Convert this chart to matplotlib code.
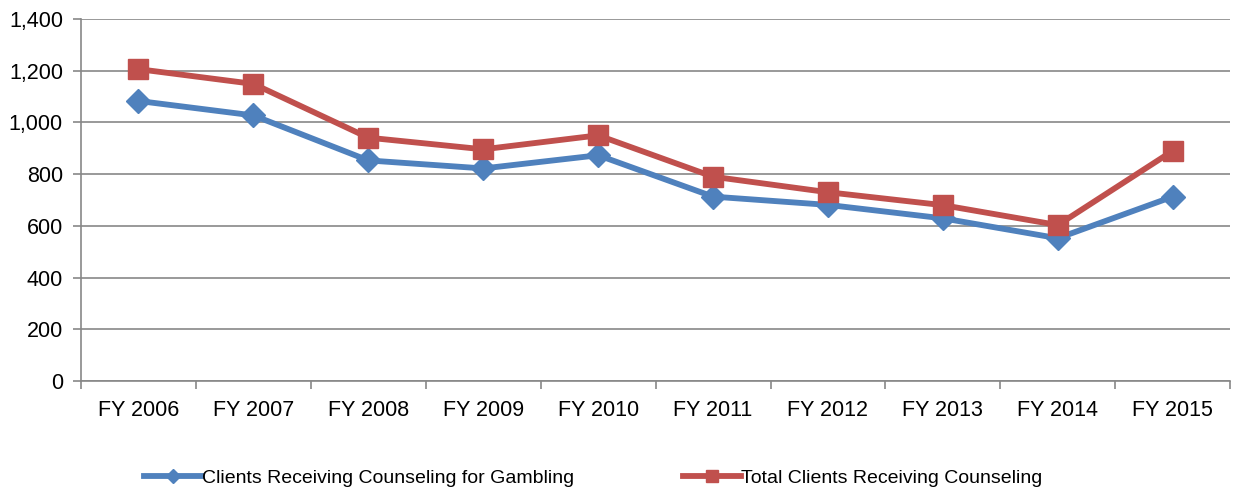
import matplotlib
matplotlib.use("Agg")
import matplotlib.pyplot as plt
import numpy as np

categories = ["FY 2006", "FY 2007", "FY 2008", "FY 2009", "FY 2010",
              "FY 2011", "FY 2012", "FY 2013", "FY 2014", "FY 2015"]
gambling = [1083, 1027, 853, 822, 873, 713, 681, 629, 552, 713]
total = [1206, 1149, 941, 896, 950, 790, 730, 680, 603, 890]
yticks = [0, 200, 400, 600, 800, 1000, 1200, 1400]
ytick_labels = ["0", "200", "400", "600", "800", "1,000", "1,200", "1,400"]

plt.rcParams['font.family'] = ['Liberation Sans', 'DejaVu Sans']

fig = plt.figure(figsize=(12.41, 4.87), dpi=100)
ax = fig.add_axes([0.0653, 0.2177, 0.926, 0.7433])

x = np.arange(len(categories))
blue = "#4F81BD"
red = "#C0504D"
grid = "#878787"

ax.plot(x, gambling, color=blue, lw=4.2, marker="D", markersize=12.5,
        label="Clients Receiving Counseling for Gambling", zorder=3)
ax.plot(x, total, color=red, lw=4.2, marker="s", markersize=14.5,
        label="Total Clients Receiving Counseling", zorder=4)

ax.set_xlim(-0.5, len(categories) - 0.5)
ax.set_ylim(0, 1400)
ax.set_yticks(yticks)
ax.set_yticklabels(ytick_labels, fontsize=15.5)
ax.set_xticks(x)
ax.set_xticklabels(categories, fontsize=15.5)
ax.set_xticks(np.arange(-0.5, len(categories)), minor=True)
ax.tick_params(axis="x", which="major", length=0, pad=14)
ax.tick_params(axis="x", which="minor", length=6, color=grid, width=1.2, direction="out")
ax.tick_params(axis="y", length=6, color=grid, width=1.2, direction="out", pad=7)

ax.yaxis.grid(True, color=grid, lw=1.2)
ax.set_axisbelow(True)
for s in ["top", "right"]:
    ax.spines[s].set_visible(False)
for s in ["left", "bottom"]:
    ax.spines[s].set_color(grid)
    ax.spines[s].set_linewidth(1.2)

leg = fig.legend(loc="lower center", bbox_to_anchor=(0.478, -0.035), ncol=2,
                 frameon=False, fontsize=14, columnspacing=5.6, handlelength=3.0,
                 handletextpad=0.0, markerscale=0.6)

fig.savefig("out.png", dpi=100)
